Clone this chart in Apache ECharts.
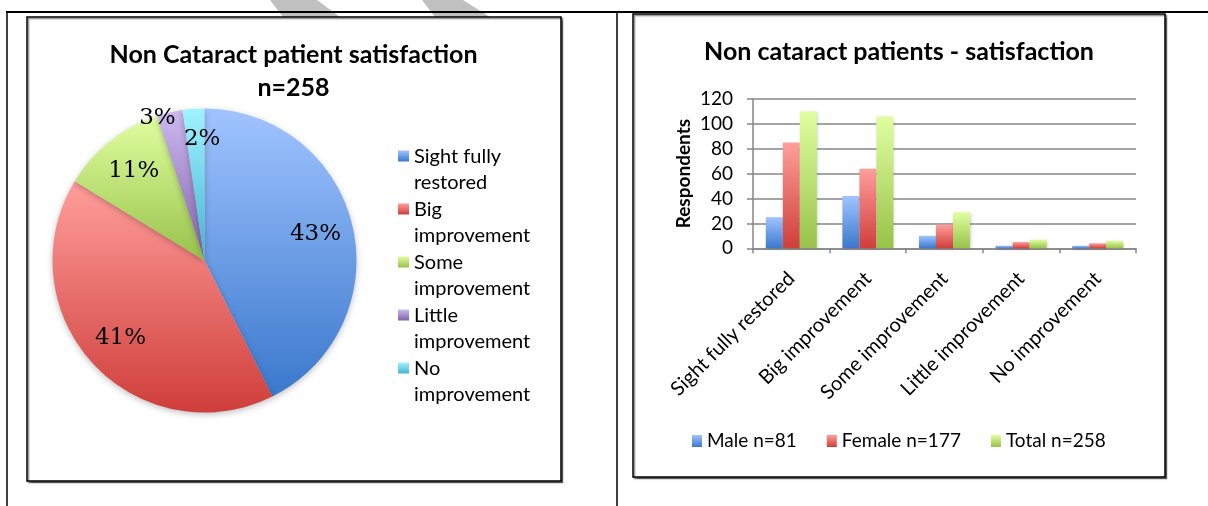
<!DOCTYPE html>
<html>
<head>
<meta charset="utf-8">
<script src="https://cdn.jsdelivr.net/npm/echarts@6/dist/echarts.min.js"></script>
<style>
  html, body { margin: 0; padding: 0; background: #fff; }
  #chart { width: 1208px; height: 506px; }
</style>
</head>
<body>
<div id="chart"></div>
<script>
// data
const categories = ['Sight fully restored', 'Big improvement', 'Some improvement', 'Little improvement', 'No improvement'];
const seriesNames = ['Male n=81', 'Female n=177', 'Total n=258'];
const maleValues = [25, 42, 10, 2, 2];
const femaleValues = [85, 64, 19, 5, 4];
const totalValues = [110, 106, 29, 7, 6];
const yMin = 0, yMax = 120, yStep = 20;

// colours (top, bottom of the gradient)
const sliceColors = [
  ['#A0C4FF', '#3A78CC'],
  ['#FF9E9B', '#CF3E3A'],
  ['#E0FFA0', '#98C24A'],
  ['#CDB9F0', '#7F62A9'],
  ['#A0F2FF', '#43B3D2']
];

const grad = (c, end) => new echarts.graphic.LinearGradient(0, 0, 0, end || 1, [
  { offset: 0, color: c[0] },
  { offset: 1, color: c[1] }
]);

const font = 'Lato';
const chartInstance = echarts.init(document.getElementById('chart'));

const pieData = categories.map((name, i) => ({
  name,
  value: totalValues[i],
  itemStyle: { color: grad(sliceColors[i]) }
}));

// transparent ring only used to place the percentage labels
const labelData = categories.map((name, i) => {
  const item = { name, value: totalValues[i] };
  if (name === 'Little improvement') {
    item.label = { position: 'outside', distanceToLabelLine: 0, offset: [6, 5] };
  }
  if (name === 'No improvement') {
    item.label = { offset: [6, -8] };
  }
  return item;
});

const option = {
  animation: false,
  textStyle: { fontFamily: font },
  graphic: {
    elements: [
      { type: 'polygon', z: -30, shape: { points: [[270, 0], [317, 0], [340, 17], [283, 17]] }, style: { fill: '#C0C0C0' } },
      { type: 'polygon', z: -30, shape: { points: [[422, 0], [463, 0], [490, 17], [435, 17]] }, style: { fill: '#C0C0C0' } },
      { type: 'line', z: -20, shape: { x1: 6, y1: 12, x2: 1208, y2: 12 }, style: { stroke: '#000', lineWidth: 2 } },
      { type: 'line', z: -20, shape: { x1: 7, y1: 11, x2: 7, y2: 506 }, style: { stroke: '#000', lineWidth: 1.5 } },
      { type: 'line', z: -20, shape: { x1: 617, y1: 11, x2: 617, y2: 506 }, style: { stroke: '#000', lineWidth: 1.5 } },
      {
        type: 'rect', z: -20,
        shape: { x: 27, y: 17, width: 534, height: 464 },
        style: { fill: '#fff', stroke: '#000', lineWidth: 1.5, shadowColor: 'rgba(0,0,0,0.45)', shadowOffsetX: 1.5, shadowOffsetY: 1.5, shadowBlur: 1 }
      },
      {
        type: 'rect', z: -20,
        shape: { x: 633, y: 14, width: 532, height: 463 },
        style: { fill: '#fff', stroke: '#000', lineWidth: 1.5, shadowColor: 'rgba(0,0,0,0.45)', shadowOffsetX: 1.5, shadowOffsetY: 1.5, shadowBlur: 1 }
      }
    ]
  },
  title: [
    {
      text: 'Non Cataract patient satisfaction\nn=258',
      left: 293.5, top: 38, padding: 0,
      textAlign: 'center',
      textStyle: { fontFamily: font, fontSize: 25, fontWeight: 'bold', color: '#000', lineHeight: 33 }
    },
    {
      text: 'Non cataract patients - satisfaction',
      left: 899, top: 36, padding: 0,
      textAlign: 'center',
      textStyle: { fontFamily: font, fontSize: 25, fontWeight: 'bold', color: '#000', lineHeight: 32 }
    }
  ],
  legend: [
    {
      orient: 'vertical',
      left: 398, top: 143, padding: 0,
      itemGap: 0,
      itemWidth: 11, itemHeight: 38,
      icon: 'path://M0,0h11v11h-11z M0,38h11',
      itemStyle: { borderWidth: 0 },
      selectedMode: false,
      data: categories.map((name, i) => ({ name, itemStyle: { color: grad(sliceColors[i], 11 / 38) } })),
      formatter: name => name.replace(/ (\S+)$/, '\n$1'),
      textStyle: { fontFamily: font, fontSize: 20, color: '#000', lineHeight: 26.5 }
    },
    {
      left: 692, top: 429, padding: 0,
      itemGap: 30,
      itemWidth: 10, itemHeight: 12,
      icon: 'rect',
      selectedMode: false,
      data: seriesNames,
      textStyle: { fontFamily: font, fontSize: 19, color: '#000', lineHeight: 24 }
    }
  ],
  grid: { left: 753, top: 99, width: 383, height: 149.3 },
  xAxis: {
    type: 'category',
    data: categories,
    axisLine: { lineStyle: { color: '#868686', width: 1.5 } },
    axisTick: { show: true, length: 5, lineStyle: { color: '#868686', width: 1.5 } },
    axisLabel: { interval: 0, rotate: 45, margin: 27, fontFamily: font, fontSize: 20, color: '#000' }
  },
  yAxis: {
    type: 'value',
    min: yMin, max: yMax, interval: yStep,
    name: 'Respondents',
    nameLocation: 'middle',
    nameGap: 60,
    nameTextStyle: { fontFamily: font, fontSize: 19, fontWeight: 'bold', color: '#000' },
    axisLine: { show: true, lineStyle: { color: '#868686', width: 1.5 } },
    axisTick: { show: true, length: 6, lineStyle: { color: '#868686', width: 1.5 } },
    axisLabel: { margin: 20, fontFamily: font, fontSize: 19, color: '#000' },
    splitLine: { lineStyle: { color: '#868686', width: 1.5 } }
  },
  series: [
    {
      type: 'pie',
      center: [204.5, 260.5],
      radius: [0, 152],
      startAngle: 90,
      clockwise: true,
      silent: true,
      label: { show: false },
      labelLine: { show: false },
      itemStyle: { borderWidth: 0, shadowColor: 'rgba(0,0,0,0.25)', shadowBlur: 6, shadowOffsetY: 2 },
      data: pieData
    },
    {
      type: 'pie',
      center: [204.5, 260.5],
      radius: [70, 152],
      startAngle: 90,
      clockwise: true,
      silent: true,
      avoidLabelOverlap: false,
      percentPrecision: 0,
      itemStyle: { color: 'rgba(0,0,0,0)', borderWidth: 0 },
      label: {
        show: true, position: 'inside', formatter: '{d}%',
        fontFamily: 'DejaVu Serif', fontSize: 23, color: '#000'
      },
      labelLine: { show: false, length: 0, length2: 0 },
      data: labelData
    },
    ...[maleValues, femaleValues, totalValues].map((vals, i) => ({
      name: seriesNames[i],
      type: 'bar',
      barWidth: 17,
      barGap: '0%',
      data: vals,
      itemStyle: {
        color: grad(sliceColors[i]),
        shadowColor: 'rgba(0,0,0,0.2)', shadowBlur: 3, shadowOffsetX: 1, shadowOffsetY: 1
      }
    }))
  ]
};

chartInstance.setOption(option);
</script>
</body>
</html>
